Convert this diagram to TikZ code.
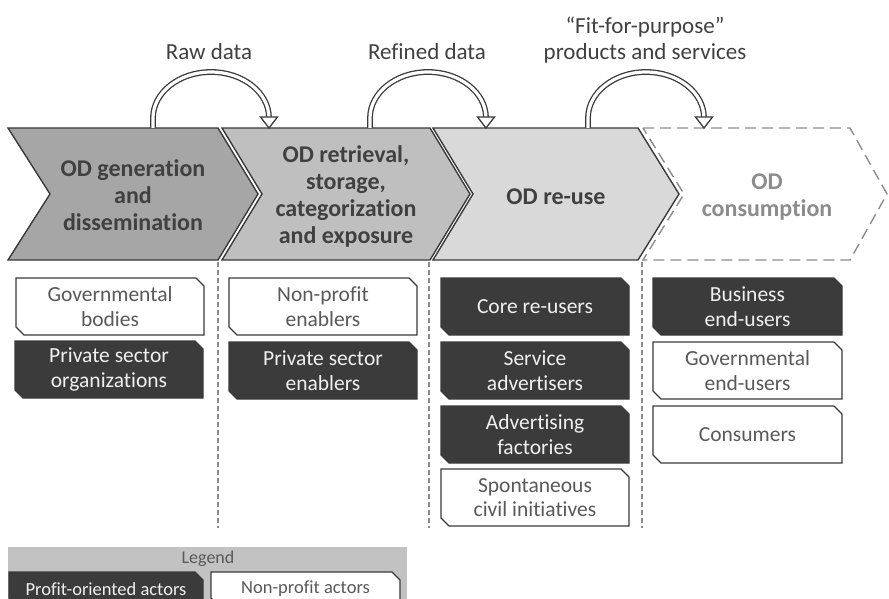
\documentclass[tikz,border=0pt]{standalone}
\usepackage{fontspec}
\setmainfont{Carlito}[Ligatures={TeX,NoCommon}]
\definecolor{cdark}{HTML}{3A3A3A}
\definecolor{ctext}{HTML}{404040}
\definecolor{cgray}{HTML}{595959}
\definecolor{clight}{HTML}{8C8C8C}
\definecolor{cone}{HTML}{A6A6A6}
\definecolor{ctwo}{HTML}{BFBFBF}
\definecolor{cthree}{HTML}{D9D9D9}
\definecolor{cbox}{HTML}{3B3B3B}
\definecolor{cleg}{HTML}{C2C2C2}
\newcommand{\actorbox}[7]{%
  \draw[#2box] (#3,#4) -- ({#5-8},#4) -- (#5,{#4+8}) -- (#5,#6) -- ({#3+8},#6) -- (#3,{#6-8}) -- cycle;
  \node[#2text] (#1) at ({(#3+#5)/2},{(#4+#6)/2}) {#7};}
\begin{document}
\begin{tikzpicture}[x=1pt,y=-1pt,
  chev/.style={draw=cdark, line width=1.4pt, line join=miter},
  chevd/.style={draw=clight, line width=1.4pt, dash pattern=on 11pt off 6pt, fill=white},
  ctitle/.style={font=\bfseries\fontsize{24}{27}\selectfont, text=ctext, align=center, inner sep=0},
  lbl/.style={font=\fontsize{23}{26}\selectfont, text=ctext, align=center, inner sep=0},
  profbox/.style={fill=cbox, draw=cdark, line width=1.2pt},
  nonpbox/.style={fill=white, draw=cdark, line width=1.4pt},
  proftext/.style={text=white!94!black, font=\fontsize{21.5}{24.5}\selectfont, align=center, inner sep=0},
  nonptext/.style={text=cgray, font=\fontsize{21.5}{24.5}\selectfont, align=center, inner sep=0},
  sep/.style={draw=clight, line width=1.2pt, dash pattern=on 5pt off 3pt},
  flow/.style={draw=cdark, line width=1.3pt, double=white, double distance=3.2pt},
  head/.style={draw=cdark, line width=1.3pt, fill=white, line join=miter}]
\useasboundingbox (0,0) rectangle (889,599);
\clip (0,0) rectangle (889,599);

% stage chevrons
\draw[chev, fill=cone]   (8,128) -- (218,128) -- (258,194) -- (218,260) -- (8,260) -- (50,194) -- cycle;
\draw[chev, fill=ctwo]   (222,128) -- (430,128) -- (470,194) -- (430,260) -- (222,260) -- (262,194) -- cycle;
\draw[chevd] (643,128) -- (850,128) -- (887,194) -- (850,260) -- (643,260) -- (684,194) -- cycle;
\draw[chev, fill=cthree] (433,128) -- (638,128) -- (679,194) -- (638,260) -- (433,260) -- (473,194) -- cycle;

\node[ctitle] (s1) at (133,195) {OD generation\\and\\dissemination};
\node[ctitle] (s2) at (346,196) {OD retrieval,\\storage,\\categorization\\and exposure};
\node[ctitle] (s3) at (556,197) {OD re-use};
\node[ctitle, text=clight] (s4) at (767,197) {OD\\consumption};

% column separators
\coordinate (v1t) at (218,262); \coordinate (v1b) at (218,528);
\coordinate (v2t) at (429,262); \coordinate (v2b) at (429,528);
\coordinate (v3t) at (642,262); \coordinate (v3b) at (642,528);
\draw[sep] (v1t) -- (v1b);
\draw[sep] (v2t) -- (v2b);
\draw[sep] (v3t) -- (v3b);

% flow arcs
\coordinate (a1s) at (153,128); \coordinate (a1e) at (269,128);
\coordinate (a2s) at (370,128); \coordinate (a2e) at (486,128);
\coordinate (a3s) at (588,128); \coordinate (a3e) at (704,128);
\foreach \s/\e in {a1s/a1e, a2s/a2e, a3s/a3e}{
  \draw[flow] (\s) -- ++(0,-10) arc[start angle=180, end angle=360, x radius=58, y radius=46];
  \draw[head] (\e) ++(-8.5,-11) -- ++(17,0) -- (\e) -- cycle;
}
\node[lbl] (l1) at (209,52) {Raw data};
\node[lbl] (l2) at (427,52) {Refined data};
\node[lbl] (l3) at (645,40) {“Fit-for-purpose”\\products and services};

% actors
\actorbox{gov}{nonp}{16}{278}{204}{335}{Governmental\\bodies}
\actorbox{pso}{prof}{15}{341}{203}{398}{Private sector\\organizations}
\actorbox{npe}{nonp}{229}{278}{417}{335}{Non-profit\\enablers}
\actorbox{pse}{prof}{229}{342}{417}{399}{Private sector\\enablers}
\actorbox{cru}{prof}{441}{278}{629}{335}{Core re-users}
\actorbox{sad}{prof}{441}{342}{629}{399}{Service\\advertisers}
\actorbox{adf}{prof}{441}{406}{629}{463}{Advertising\\factories}
\actorbox{sci}{nonp}{441}{469}{629}{526}{Spontaneous\\civil initiatives}
\actorbox{beu}{prof}{653}{278}{842}{335}{Business\\end-users}
\actorbox{geu}{nonp}{653}{342}{842}{399}{Governmental\\end-users}
\actorbox{con}{nonp}{653}{406}{842}{463}{Consumers}

% legend
\fill[cleg] (8,547) rectangle (407,620);
\node[font=\fontsize{18}{20}\selectfont, text=cgray, inner sep=0] (lg) at (208,559) {Legend};
\actorbox{lp}{prof}{9}{572}{203}{606}{\fontsize{18.5}{20}\selectfont Profit-oriented actors}
\actorbox{ln}{nonp}{211}{572}{400}{606}{\fontsize{18.5}{20}\selectfont Non-profit actors}
\end{tikzpicture}
\end{document}
